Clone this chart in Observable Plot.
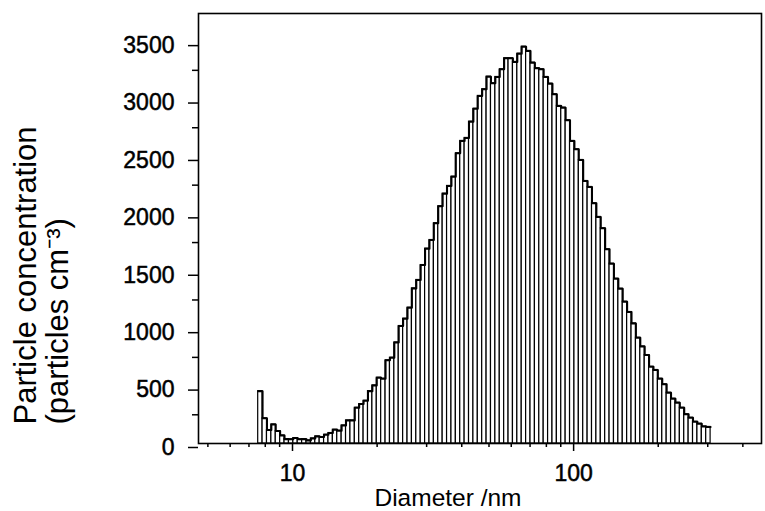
<!DOCTYPE html>
<html>
<head>
<meta charset="utf-8">
<script src="https://cdn.jsdelivr.net/npm/d3@7"></script>
<script src="https://cdn.jsdelivr.net/npm/@observablehq/plot@0.6"></script>
<style>
  html, body { margin: 0; padding: 0; background: #fff; }
</style>
</head>
<body>
<div id="chart"></div>
<script>
// Particle number concentration per SMPS channel (particles cm^-3)
const concentration = [
  456, 219, 117, 166, 108, 70, 38, 36, 47, 36,
  38, 27, 44, 62, 56, 76, 91, 120, 111, 157,
  201, 201, 311, 343, 372, 456, 506, 573, 564, 724,
  747, 880, 1023, 1087, 1183, 1351, 1424, 1554, 1697, 1772,
  1918, 2066, 2176, 2243, 2324, 2527, 2635, 2661, 2803, 2915,
  3027, 3085, 3195, 3137, 3192, 3259, 3355, 3355, 3323, 3395,
  3456, 3419, 3317, 3268, 3259, 3192, 3134, 3041, 2940, 2925,
  2815, 2635, 2562, 2469, 2286, 2234, 2092, 1973, 1874, 1691,
  1566, 1435, 1348, 1235, 1145, 1046, 921, 845, 770, 668,
  640, 564, 515, 442, 390, 355, 311, 254, 224, 189,
  172, 148, 144
];
// SMPS channel definition: lower edge of first channel (nm), channels per decade
const firstChannelLowerEdge = 7.55;
const channelsPerDecade = 64;

const yTicks = [0, 500, 1000, 1500, 2000, 2500, 3000, 3500];
const yMinorTicks = [250, 750, 1250, 1750, 2250, 2750, 3250];
const xTickLabels = [10, 100];
const xMinorTicks = [5, 6, 7, 8, 9, 20, 30, 40, 50, 60, 70, 80, 90, 200, 300, 400];

const bins = concentration.map((v, i) => ({
  lo: firstChannelLowerEdge * Math.pow(10, i / channelsPerDecade),
  hi: firstChannelLowerEdge * Math.pow(10, (i + 1) / channelsPerDecade),
  v
}));
const outline = bins.map(b => ({x: b.lo, y: b.v}));
outline.push({x: bins[bins.length - 1].hi, y: bins[bins.length - 1].v});

const font = "'Liberation Sans', Arial, Helvetica, sans-serif";

const chart = Plot.plot({
  width: 765,
  height: 511,
  marginLeft: 198,
  marginRight: 4,
  marginTop: 13,
  marginBottom: 68,
  style: {fontFamily: font, background: "white", color: "black"},
  x: {type: "log", domain: [4.63, 466]},
  y: {domain: [0, 3745]},
  marks: [
    Plot.rectY(bins, {x1: "lo", x2: "hi", y1: 0, y2: "v", fill: "white", stroke: "black", strokeWidth: 1.2}),
    Plot.line(outline, {x: "x", y: "y", curve: "step-after", stroke: "black", strokeWidth: 2}),
    Plot.frame({stroke: "black", strokeWidth: 1.6}),
    Plot.axisY(yTicks, {tickSize: 10, tickPadding: 14, fontSize: 23, dy: 4, strokeWidth: 1.5, tickFormat: d => String(d), label: null}),
    Plot.axisY(yMinorTicks, {tickSize: 6, strokeWidth: 1.5, tickFormat: () => "", label: null}),
    Plot.axisX(xTickLabels, {tickSize: 8, tickPadding: 13, fontSize: 23, strokeWidth: 1.5, tickFormat: d => String(d), label: null}),
    Plot.axisX(xMinorTicks, {tickSize: 4, strokeWidth: 1.5, tickFormat: () => "", label: null}),
    Plot.text(["Particle concentration"], {text: d => d, frameAnchor: "bottom-left", rotate: -90, textAnchor: "start", dx: -163, dy: -19, fontSize: 31}),
    Plot.text(["(particles cm\u207B\u00B3)"], {text: d => d, frameAnchor: "bottom-left", rotate: -90, textAnchor: "start", dx: -131, dy: -19, fontSize: 31}),
    Plot.text(["Diameter /nm"], {text: d => d, frameAnchor: "bottom", dx: -32, dy: 62, fontSize: 24.5, fill: "black", ariaLabel: "x-title"})
  ]
});
d3.select(chart).selectAll("g[aria-label$='tick label'] text, g[aria-label='x-title'] text")
  .attr("stroke", "black").attr("stroke-width", 0.5);
document.getElementById("chart").appendChild(chart);
</script>
</body>
</html>
